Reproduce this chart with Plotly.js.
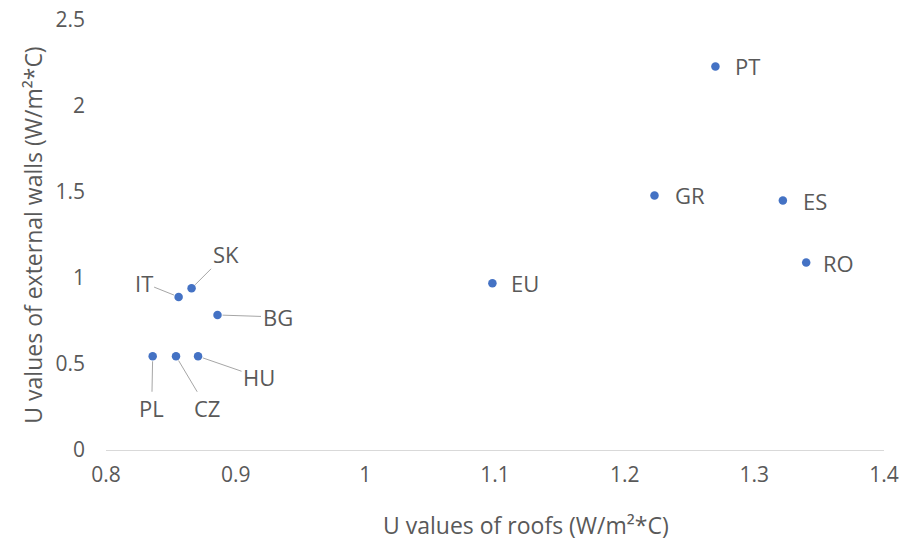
<!DOCTYPE html>
<html>
<head>
<meta charset="utf-8">
<script src="https://cdn.plot.ly/plotly-3.0.1.min.js"></script>
<style>html,body{margin:0;padding:0;background:#fff;}#chart{width:910px;height:549px;}</style>
</head>
<body>
<div id="chart"></div>
<script>
const countries = ["PT", "GR", "ES", "RO", "EU", "IT", "SK", "BG", "PL", "CZ", "HU"];
const roofU =     [1.27, 1.223, 1.322, 1.34, 1.098, 0.856, 0.866, 0.886, 0.836, 0.854, 0.871];
const wallU =     [2.23, 1.48, 1.45, 1.09, 0.97, 0.89, 0.94, 0.785, 0.545, 0.545, 0.545];
const xTicks = [0.8, 0.9, 1, 1.1, 1.2, 1.3, 1.4];
const yTicks = [0, 0.5, 1, 1.5, 2, 2.5];
const xTitle = "U values of roofs (W/m²*C)";
const yTitle = "U values of external walls (W/m²*C)";

// label offsets (pixels) from the point: [ax, ay, leader line?]
const labelOffsets = {
  PT: [32, 0, false], GR: [36, 0, false], ES: [32, 0, false], RO: [32, 0, false], EU: [33, 0, false],
  IT: [-35, -14, true], SK: [34, -34, true], BG: [60, 2, true],
  PL: [-1, 52, true], CZ: [31, 52, true], HU: [61, 21, true]
};

const fam = "Open Sans, Liberation Sans, sans-serif";
const font = {family: fam, size: 21, color: "#595959"};

const annotations = countries.map((c, i) => {
  const o = labelOffsets[c];
  return {
    x: roofU[i], y: wallU[i], xref: "x", yref: "y",
    text: c, showarrow: true, arrowhead: 0, arrowwidth: 1,
    arrowcolor: o[2] ? "#a6a6a6" : "rgba(0,0,0,0)",
    ax: o[0], ay: o[1], standoff: o[2] ? 5 : 0,
    font: {family: fam, size: 22, color: "#595959"}
  };
});
annotations.push({
  text: xTitle, xref: "paper", yref: "paper", x: 0.54, y: -0.175,
  xanchor: "center", yanchor: "middle", showarrow: false,
  font: {family: fam, size: 23, color: "#595959"}
});

const trace = {
  type: "scatter", mode: "markers",
  x: roofU, y: wallU, text: countries,
  marker: {color: "#4472C4", size: 8.5},
  hoverinfo: "text+x+y"
};

const layout = {
  width: 910, height: 549,
  margin: {l: 106, r: 26, t: 20, b: 99},
  paper_bgcolor: "#fff", plot_bgcolor: "#fff",
  showlegend: false,
  font: font,
  xaxis: {
    range: [0.8, 1.4], tickvals: xTicks, ticktext: xTicks.map(String),
    showgrid: false, zeroline: false, showline: true, linecolor: "#d9d9d9", linewidth: 1,
    ticks: "", ticklabelstandoff: 6,
    tickfont: font
  },
  yaxis: {
    range: [0, 2.5], tickvals: yTicks, ticktext: yTicks.map(String),
    showgrid: false, zeroline: false, showline: false,
    ticks: "", ticklabelstandoff: 20,
    tickfont: font,
    title: {text: yTitle, font: {family: fam, size: 23, color: "#595959"}, standoff: 6}
  },
  annotations: annotations
};

Plotly.newPlot("chart", [trace], layout, {displayModeBar: false, staticPlot: true});
</script>
</body>
</html>
